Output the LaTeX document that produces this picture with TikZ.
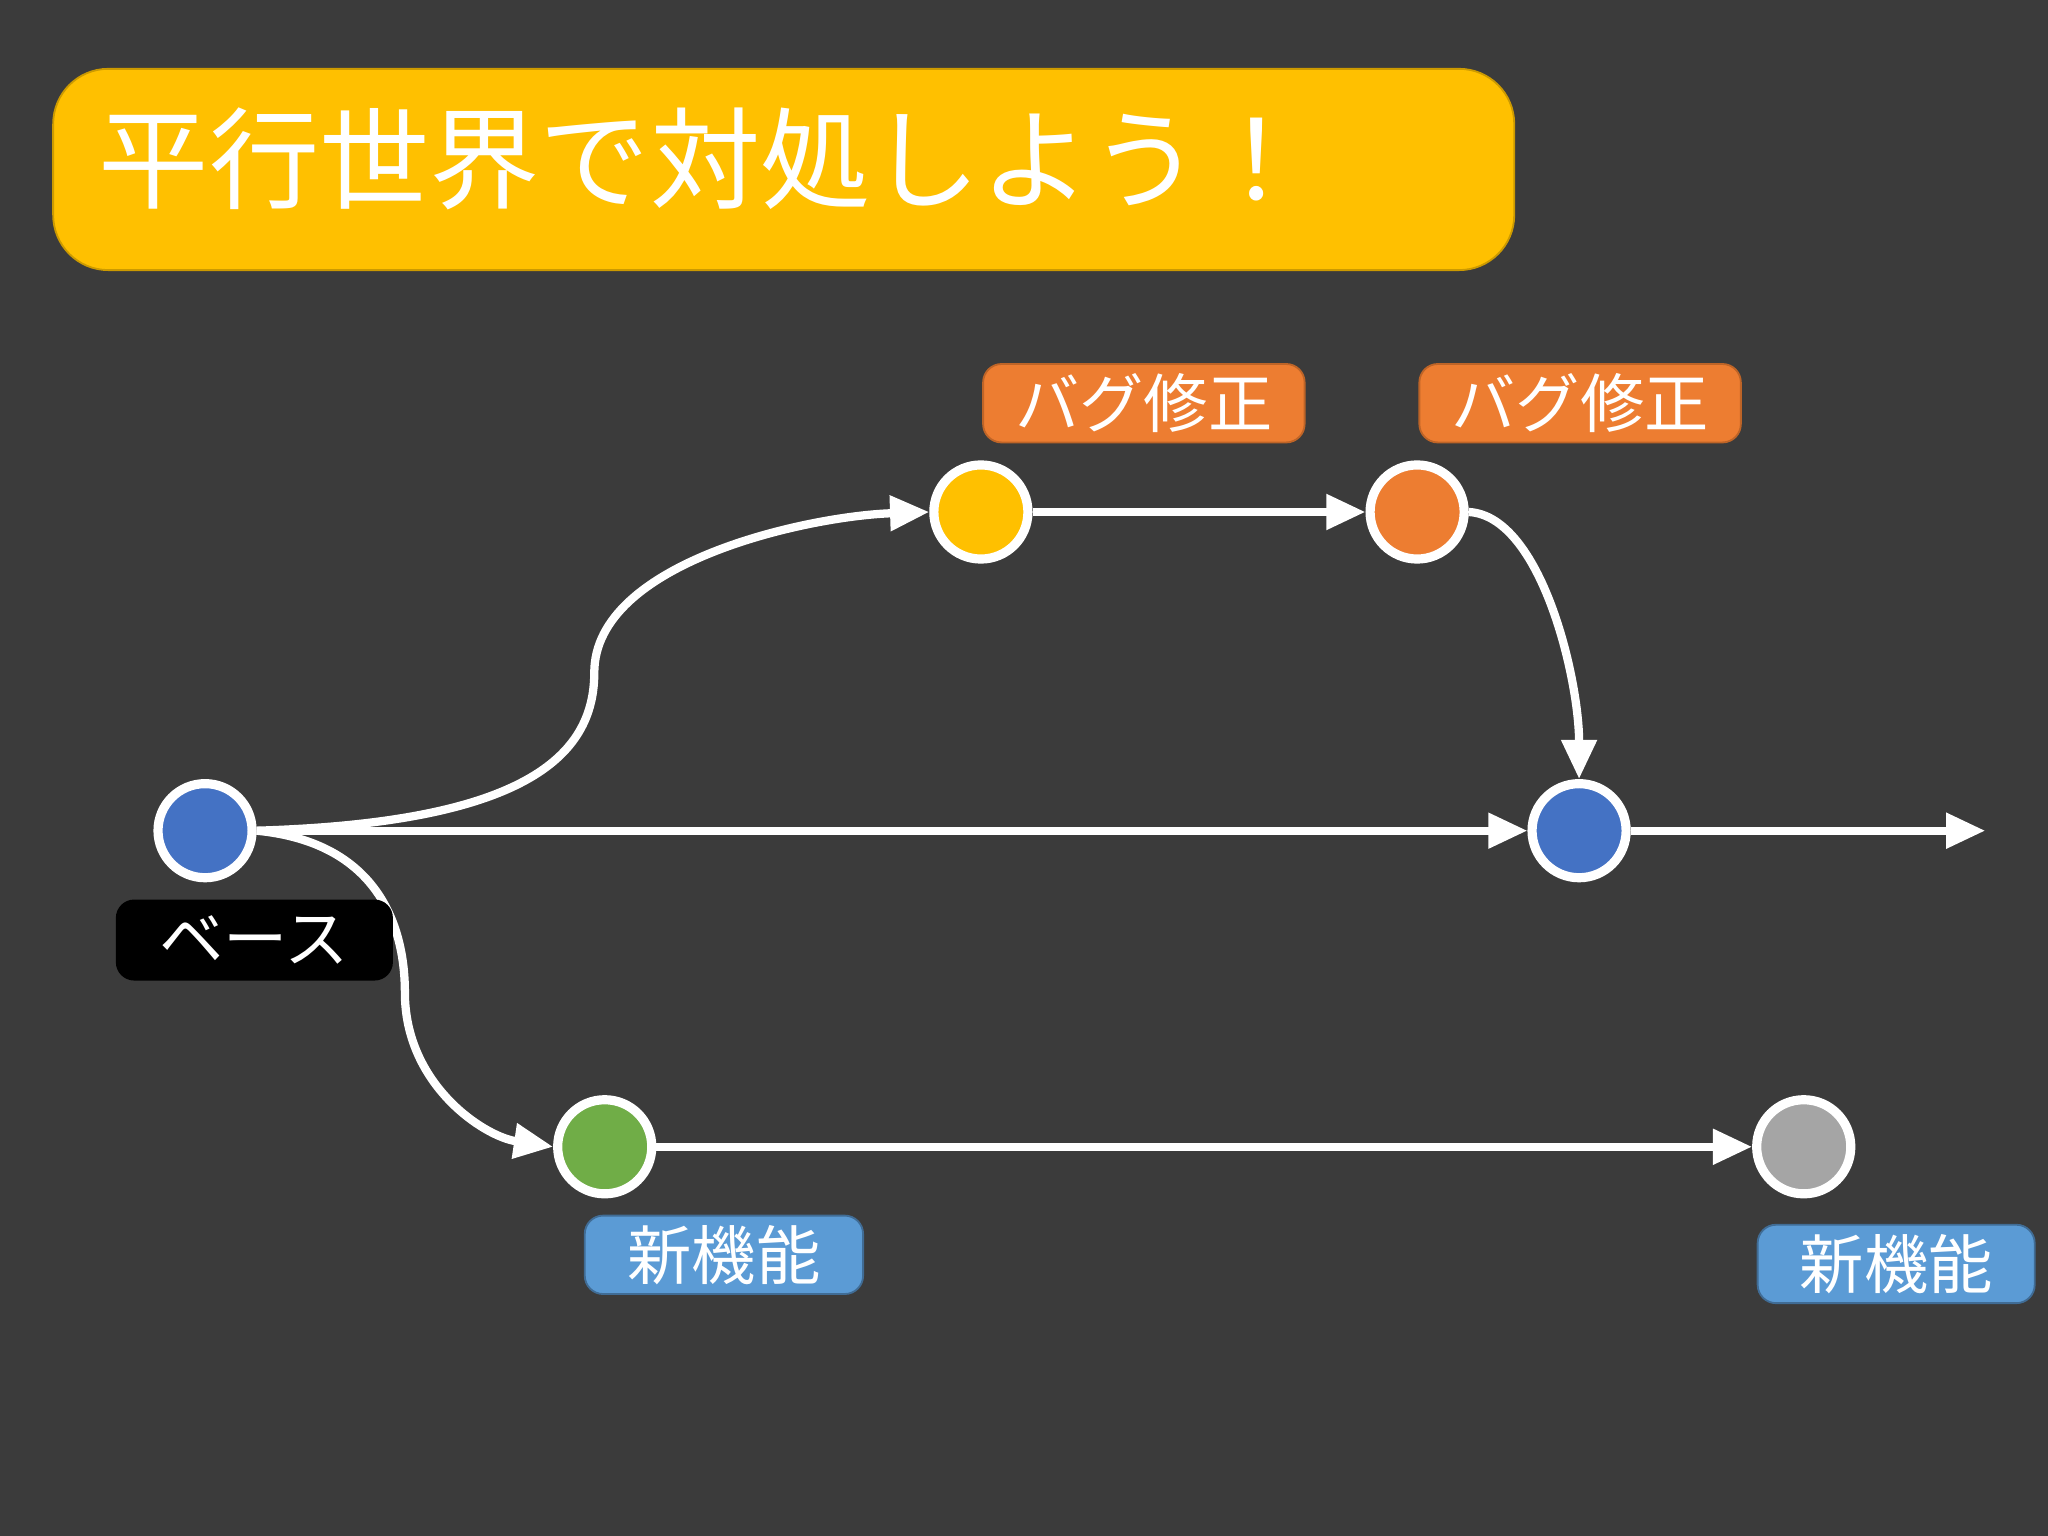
\documentclass[tikz,border=0pt]{standalone}
\usepackage{fontspec}
\newfontfamily\cjk{Noto Sans CJK JP}
\usetikzlibrary{arrows.meta}
\definecolor{bg}{HTML}{3B3B3B}
\definecolor{gold}{HTML}{FFC000}
\definecolor{orng}{HTML}{ED7D31}
\definecolor{blu}{HTML}{4472C4}
\definecolor{grn}{HTML}{70AD47}
\definecolor{gry}{HTML}{A5A5A5}
\definecolor{lblue}{HTML}{5B9BD5}
\begin{document}
\begin{tikzpicture}[x=0.01cm,y=-0.01cm,
  commit/.style={circle,draw=white,line width=2pt,minimum size=0.72cm,inner sep=0},
  conn/.style={white,line width=1.8pt,-{Triangle[length=0.3cm,width=0.26cm]}},
  tag/.style={rounded corners=4pt,text=white,font=\cjk\fontsize{14}{14}\selectfont,minimum height=0.6cm,inner sep=0,anchor=north west}]
\fill[bg] (0,0) rectangle (1568,1176);
\useasboundingbox (0,0) rectangle (1568,1176);
\node[fill=gold,draw=gold!80!black,rounded corners=12pt,minimum width=11.18cm,minimum height=1.54cm,anchor=north west,inner sep=0] (title) at (40,52) {};
\node[anchor=west,text=white,font=\cjk\fontsize{24}{24}\selectfont,inner sep=0] (tt) at (75,122) {平行世界で対処しよう！};
\coordinate (end) at (1520,636);
\node[commit,fill=blu] (base) at (157,636) {};
\node[commit,fill=gold] (y) at (751,392) {};
\node[commit,fill=orng] (o) at (1085,392) {};
\node[commit,fill=blu] (m) at (1209,636) {};
\node[commit,fill=grn] (g) at (463,878) {};
\node[commit,fill=gry] (gr) at (1381,878) {};
\draw[conn] (base.east) .. controls (400,630) and (455,580) .. (455,515) .. controls (455,430) and (620,395) .. (y.west);
\draw[conn] (base.east) .. controls (290,645) and (310,710) .. (310,760) .. controls (310,830) and (370,870) .. (g.west);
\draw[conn] (base.east) -- (m.west);
\draw[conn] (m.east) -- (end);
\draw[conn] (y.east) -- (o.west);
\draw[conn] (o.east) .. controls (1180,395) and (1209,520) .. (m.north);
\draw[conn] (g.east) -- (gr.west);
\node[tag,fill=orng,draw=orng!80!black,minimum width=2.46cm] (l1) at (752,278) {バグ修正};
\node[tag,fill=orng,draw=orng!80!black,minimum width=2.46cm] (l2) at (1086,278) {バグ修正};
\node[tag,fill=black,minimum width=2.12cm,minimum height=0.62cm] (lb) at (88,688) {ベース};
\node[tag,fill=lblue,draw=lblue!70!black,minimum width=2.13cm] (l3) at (447,930) {新機能};
\node[tag,fill=lblue,draw=lblue!70!black,minimum width=2.12cm] (l4) at (1345,937) {新機能};
\end{tikzpicture}
\end{document}
